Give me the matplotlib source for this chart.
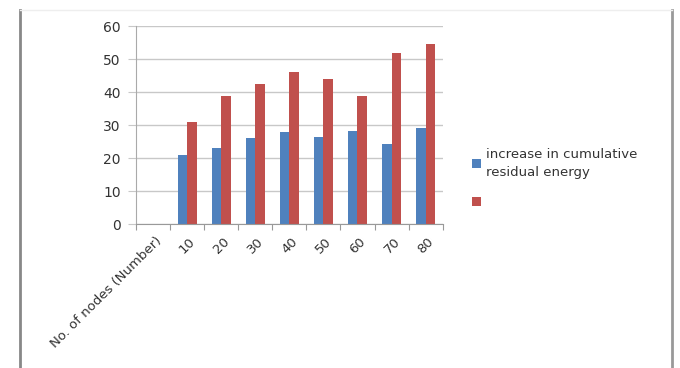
import matplotlib.pyplot as plt
import numpy as np
from matplotlib.lines import Line2D

categories = ["No. of nodes (Number)", "10", "20", "30", "40", "50", "60", "70", "80"]
blue_vals = [np.nan, 21, 23, 26, 28, 26.5, 28.3, 24.3, 29]
red_vals = [np.nan, 31, 38.8, 42.5, 46.2, 44, 38.8, 52, 54.5]
blue_label = "increase in cumulative\nresidual energy"
red_label = " "

fig = plt.figure(figsize=(6.8, 3.68), dpi=100)
ax = fig.add_axes([0.2, 0.391, 0.451, 0.538])

x = np.arange(len(categories))
w = 0.28
ax.bar(x - w / 2, blue_vals, w, color="#4f81bd", label=blue_label)
ax.bar(x + w / 2, red_vals, w, color="#c0504d", label=red_label)

ax.set_xlim(-0.5, len(categories) - 0.5)
ax.set_ylim(0, 60)
ax.set_yticks(range(0, 61, 10))
ax.yaxis.grid(True, color="#c8c8c8", linewidth=1)
ax.set_axisbelow(True)

# category boundaries carry the tick marks, labels sit in the middle
ax.set_xticks(np.arange(len(categories) + 1) - 0.5)
ax.set_xticklabels([])
ax.tick_params(axis="x", length=4, color="#999999", direction="out")
ax.tick_params(axis="y", length=6, color="#c8c8c8", labelsize=10, labelcolor="#333333", pad=5)
for i, c in enumerate(categories):
    ax.text(i + 0.05, -3.2, c, rotation=45, ha="right", va="top",
            rotation_mode="anchor", fontsize=9.5, color="#333333")

for s in ["top", "right"]:
    ax.spines[s].set_visible(False)
ax.spines["left"].set_color("#aaaaaa")
ax.spines["bottom"].set_color("#999999")

leg = ax.legend(loc="center left", bbox_to_anchor=(0.686, 0.515), bbox_transform=fig.transFigure,
                frameon=False, fontsize=9.5, handlelength=0.7, handleheight=0.7,
                handletextpad=0.4, labelspacing=1.3, borderaxespad=0)
for t in leg.get_texts():
    t.set_color("#333333")
    t.set_linespacing(1.5)

# outer frame of the pasted chart
fig.add_artist(Line2D([20 / 680, 20 / 680], [0, 1 - 10 / 368], color="#888888", linewidth=2))
fig.add_artist(Line2D([672 / 680, 672 / 680], [0, 1 - 10 / 368], color="#999999", linewidth=2))
fig.add_artist(Line2D([20 / 680, 672 / 680], [1 - 10 / 368, 1 - 10 / 368], color="#eeeeee", linewidth=1))

fig.savefig("out.png", dpi=100)
